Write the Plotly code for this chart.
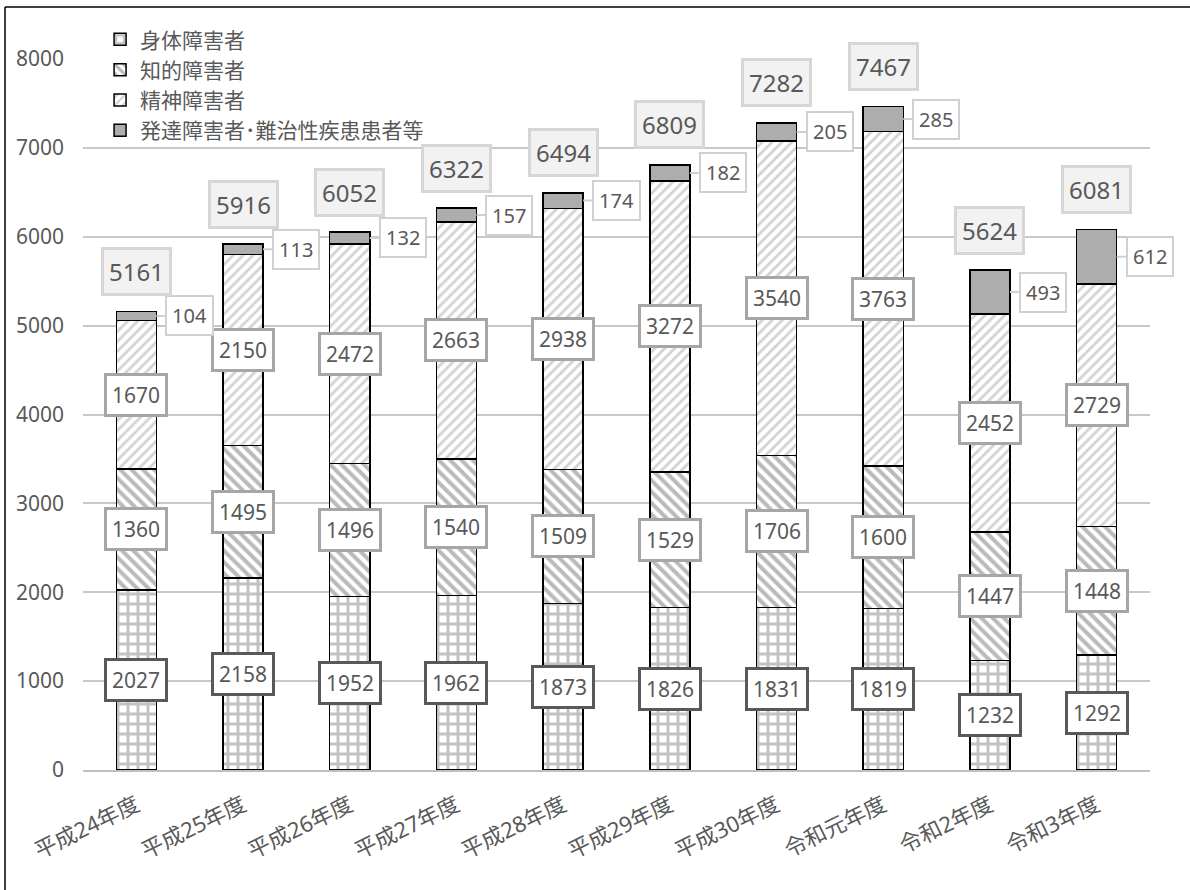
import plotly.graph_objects as go

categories = ["平成24年度", "平成25年度", "平成26年度", "平成27年度", "平成28年度",
              "平成29年度", "平成30年度", "令和元年度", "令和2年度", "令和3年度"]
series_names = ["身体障害者", "知的障害者", "精神障害者", "発達障害者･難治性疾患患者等"]
physical = [2027, 2158, 1952, 1962, 1873, 1826, 1831, 1819, 1232, 1292]
intellectual = [1360, 1495, 1496, 1540, 1509, 1529, 1706, 1600, 1447, 1448]
mental = [1670, 2150, 2472, 2663, 2938, 3272, 3540, 3763, 2452, 2729]
developmental = [104, 113, 132, 157, 174, 182, 205, 285, 493, 612]
totals = [5161, 5916, 6052, 6322, 6494, 6809, 7282, 7467, 5624, 6081]
y_ticks = [0, 1000, 2000, 3000, 4000, 5000, 6000, 7000, 8000]

TXT = "#595959"
FONT = "Noto Sans, Noto Sans CJK JP"
xs = list(range(len(categories)))

styles = [
    dict(marker_color="white", marker_pattern=dict(shape="+", fgcolor="#858585", bgcolor="white", size=10, solidity=0.5)),
    dict(marker_color="white", marker_pattern=dict(shape="\\", fgcolor="#767676", bgcolor="white", size=8, solidity=0.5)),
    dict(marker_color="white", marker_pattern=dict(shape="/", fgcolor="#A8A8A8", bgcolor="white", size=7, solidity=0.4)),
    dict(marker_color="#ADADAD"),
]
data = [physical, intellectual, mental, developmental]

fig = go.Figure()
for name, vals, st in zip(series_names, data, styles):
    fig.add_trace(go.Bar(
        x=xs, y=vals, name=name, width=0.375,
        marker_line=dict(color="black", width=1.5),
        **st,
    ))

annotations = []
# segment labels
box_colors = ["#595959", "#A6A6A6", "#A6A6A6"]
for s in range(3):
    for i in xs:
        base = sum(data[k][i] for k in range(s))
        annotations.append(dict(
            x=i, y=base + data[s][i] / 2, text=str(data[s][i]), showarrow=False,
            font=dict(size=21, color=TXT, family=FONT), bgcolor="white",
            bordercolor=box_colors[s], borderwidth=3, borderpad=5,
        ))
# callouts for developmental
for i in xs:
    base = physical[i] + intellectual[i] + mental[i]
    annotations.append(dict(
        x=i, y=base + developmental[i] / 2, xshift=20, text=str(developmental[i]),
        showarrow=True, arrowhead=0, arrowwidth=2, arrowcolor="#D0D0D0",
        ax=33, ay=0, standoff=0,
        font=dict(size=20, color=TXT, family=FONT), bgcolor="white",
        bordercolor="#D0D0D0", borderwidth=2, borderpad=5,
    ))
# totals
for i in xs:
    annotations.append(dict(
        x=i, y=totals[i], yshift=40, text=str(totals[i]), showarrow=False,
        font=dict(size=24, color=TXT, family=FONT), bgcolor="#F2F2F2",
        bordercolor="#D6D6D6", borderwidth=3, borderpad=5,
    ))

fig.update_layout(
    width=1190, height=890,
    margin=dict(l=83, r=40, t=59, b=120),
    barmode="stack",
    paper_bgcolor="white", plot_bgcolor="white",
    font=dict(family=FONT, color=TXT, size=20),
    annotations=annotations,
    showlegend=True,
    legend=dict(x=0.016, y=1.056, xanchor="left", yanchor="top", traceorder="normal",
                bgcolor="rgba(0,0,0,0)", font=dict(size=21, color=TXT, family=FONT),
                itemwidth=30, tracegroupgap=0),
    xaxis=dict(tickvals=xs, ticktext=categories, range=[-0.5, len(categories) - 0.5],
               tickangle=-26, showline=True, linecolor="#BFBFBF", linewidth=2,
               ticklabelstandoff=12,
               ticks="", tickfont=dict(size=22, color=TXT)),
    yaxis=dict(range=[0, 8000], tickvals=y_ticks, showgrid=True, gridcolor="#C8C8C8",
               gridwidth=1.5, zeroline=False, ticks="", ticklabelstandoff=18,
               tickfont=dict(size=21, color=TXT)),
    shapes=[
        dict(type="line", xref="paper", yref="paper", x0=-78 / 1067, x1=1.2, y0=1 + 52 / 711, y1=1 + 52 / 711,
             line=dict(color="black", width=1.5)),
        dict(type="line", xref="paper", yref="paper", x0=-78 / 1067, x1=-78 / 1067, y0=-0.3, y1=1 + 52 / 711,
             line=dict(color="black", width=1.5)),
    ],
)

fig.write_html("out.html")
